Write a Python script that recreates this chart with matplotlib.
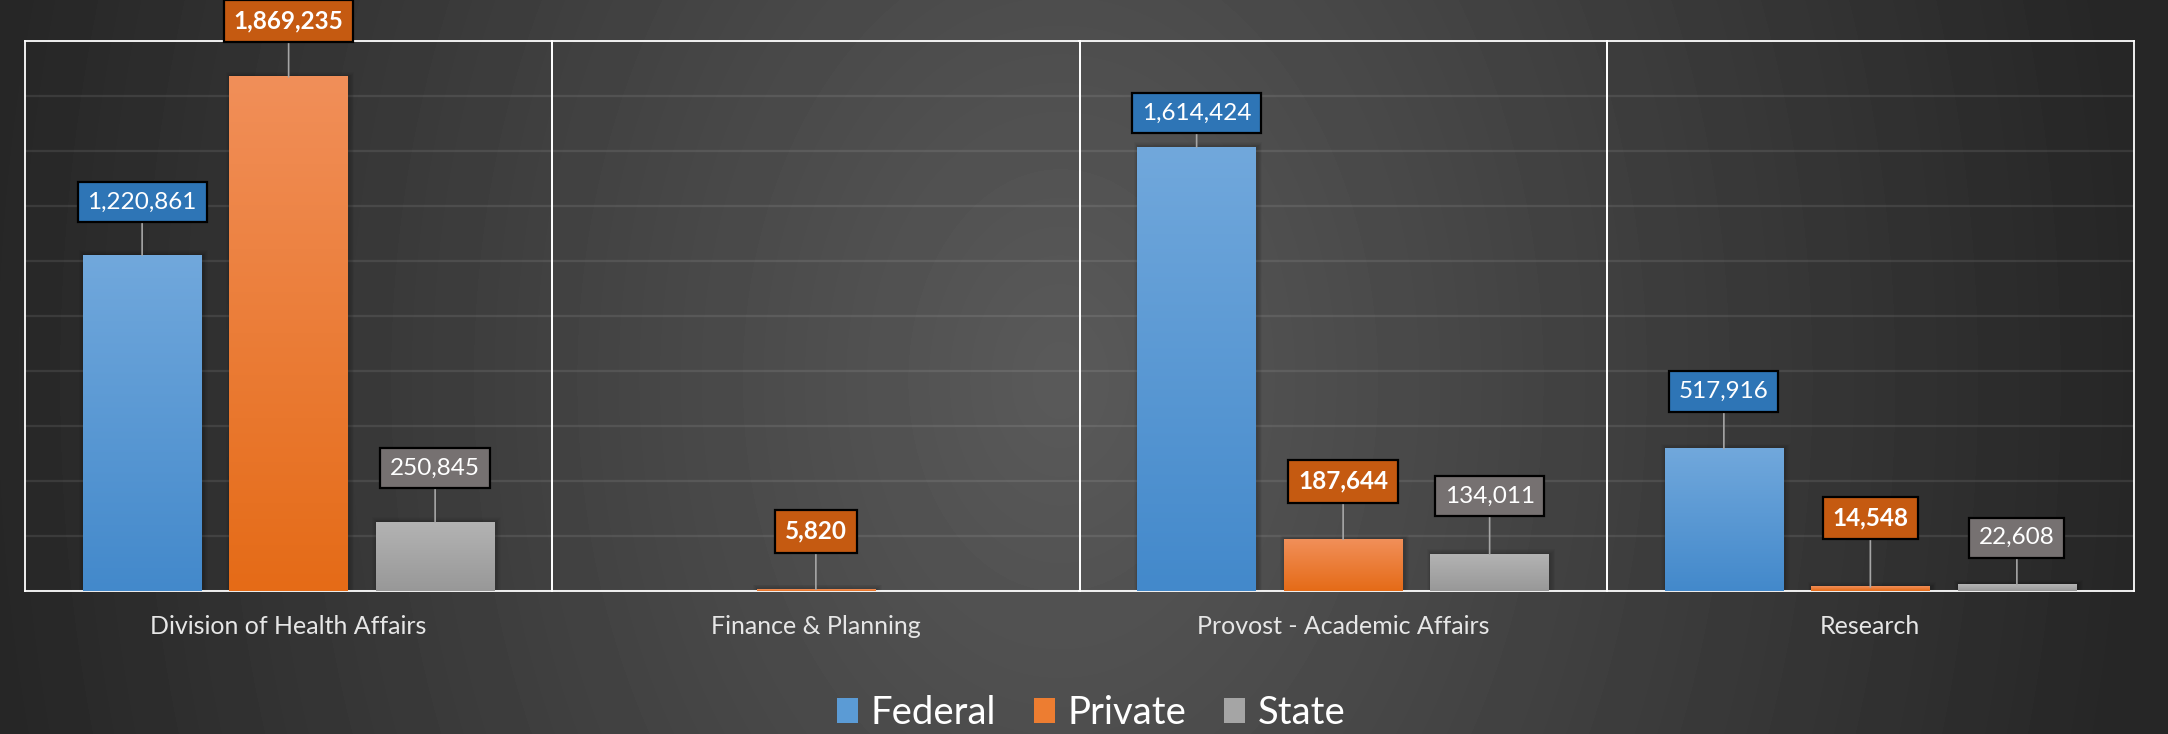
import numpy as np
import matplotlib.pyplot as plt
from matplotlib.patches import Patch
from matplotlib.colors import LinearSegmentedColormap
from matplotlib.transforms import blended_transform_factory

plt.rcParams['font.family'] = ['Lato', 'DejaVu Sans']

# Data
categories = ["Division of Health Affairs", "Finance & Planning",
              "Provost - Academic Affairs", "Research"]
series_names = ["Federal", "Private", "State"]
federal = [1220861, None, 1614424, 517916]
private = [1869235, 5820, 187644, 14548]
state = [250845, None, 134011, 22608]
series_values = [federal, private, state]

# styles
bar_top = ["#71a8dc", "#f18f59", "#b3b3b3"]
bar_bot = ["#4389cb", "#e56b17", "#989898"]
bar_mid = ["#5b9bd5", "#ed7d31", "#a5a5a5"]
box_col = ["#2e75b6", "#c55a11", "#767171"]
# gap (px) between bar top and the bottom of its label box
label_gap = [[33, 0, 14, 37],
             [36, 38, 38, 49],
             [34, 0, 38, 27]]

W, H = 2168, 734
fig = plt.figure(figsize=(W / 100, H / 100), dpi=100)

# radial-ish dark background
bg = fig.add_axes([0, 0, 1, 1], zorder=-10)
yy, xx = np.mgrid[0:H, 0:W]
r = np.sqrt(((xx - 1060) / 1080.) ** 2 + ((yy - 380) / 1500.) ** 2)
r = np.clip(r, 0, 1)
shade = (90 - 52 * r) / 255.
bg.imshow(shade, cmap='gray', vmin=0, vmax=1, extent=[0, 1, 0, 1], aspect='auto')
bg.set_xlim(0, 1)
bg.set_ylim(0, 1)
bg.axis('off')

left_px, right_px, top_px, bot_px = 25, 2134, 41, 591
n = len(categories)
panel_px = (right_px - left_px) / n
step_px = 146.5      # distance between bar centres
gs = fig.add_gridspec(1, n, left=left_px / W, right=right_px / W, top=1 - top_px / H,
                      bottom=1 - bot_px / H, wspace=0)
axes_h = bot_px - top_px
ymax = 2000000
px_x = 1. / step_px          # one pixel in x data units
px_y = ymax / axes_h         # one pixel in y data units

grad = np.linspace(0, 1, 200)[:, None]

for i, cat in enumerate(categories):
    ax = fig.add_subplot(gs[0, i])
    ax.set_facecolor('none')

    for j, vals in enumerate(series_values):
        v = vals[i]
        if v is None:
            continue
        # soft shadow around the bar
        for k in range(1, 7):
            ax.bar(j - 1 + 1.5 * px_x, v + 0.8 * k * px_y, width=0.81 + 1.6 * k * px_x,
                   color='black', alpha=0.03, lw=0, zorder=1.5)
        b = ax.bar(j - 1, v, width=0.81, color=bar_mid[j], zorder=2)[0]
        cmap = LinearSegmentedColormap.from_list('g%d' % j, [bar_top[j], bar_bot[j]])
        ax.imshow(grad, cmap=cmap, aspect='auto', zorder=3,
                  extent=[b.get_x(), b.get_x() + b.get_width(), 0, v])
        ax.annotate(f"{v:,}", xy=(j - 1, v),
                    xytext=(0, label_gap[j][i] + 20), textcoords='offset pixels',
                    ha='center', va='center', fontsize=17.5, color='white',
                    fontweight='bold' if j == 1 else 'normal',
                    bbox=dict(boxstyle='square,pad=0.4', fc=box_col[j], ec='black', lw=1.6),
                    arrowprops=dict(arrowstyle='-', color='#a6a6a6', lw=1.2,
                                    shrinkA=0, shrinkB=0),
                    zorder=6, annotation_clip=False)

    w = panel_px / step_px
    ax.set_xlim(-w / 2, w / 2)
    ax.set_ylim(0, ymax)
    ax.set_yticks(np.arange(0, ymax + 1, 200000))
    ax.set_xticks([])
    ax.tick_params(left=False, labelleft=False)
    ax.grid(axis='y', color='white', alpha=0.09, lw=1.6)
    ax.set_axisbelow(True)
    for s in ax.spines.values():
        s.set_color('white')
        s.set_linewidth(1.3)

    trans = blended_transform_factory(ax.transData, ax.transAxes)
    ax.text(0, -36. / axes_h, cat, transform=trans, ha='center', va='center',
            fontsize=18, color='#e6e6e6')

handles = [Patch(fc=c, ec='none') for c in bar_mid]
fig.legend(handles, series_names, loc='center', bbox_to_anchor=(1091 / W, 1 - 713 / H),
           ncol=3, frameon=False, fontsize=27.5, labelcolor='white',
           handlelength=0.55, handleheight=0.6, handletextpad=0.32, columnspacing=1.0)

fig.savefig("out.png", dpi=100)
